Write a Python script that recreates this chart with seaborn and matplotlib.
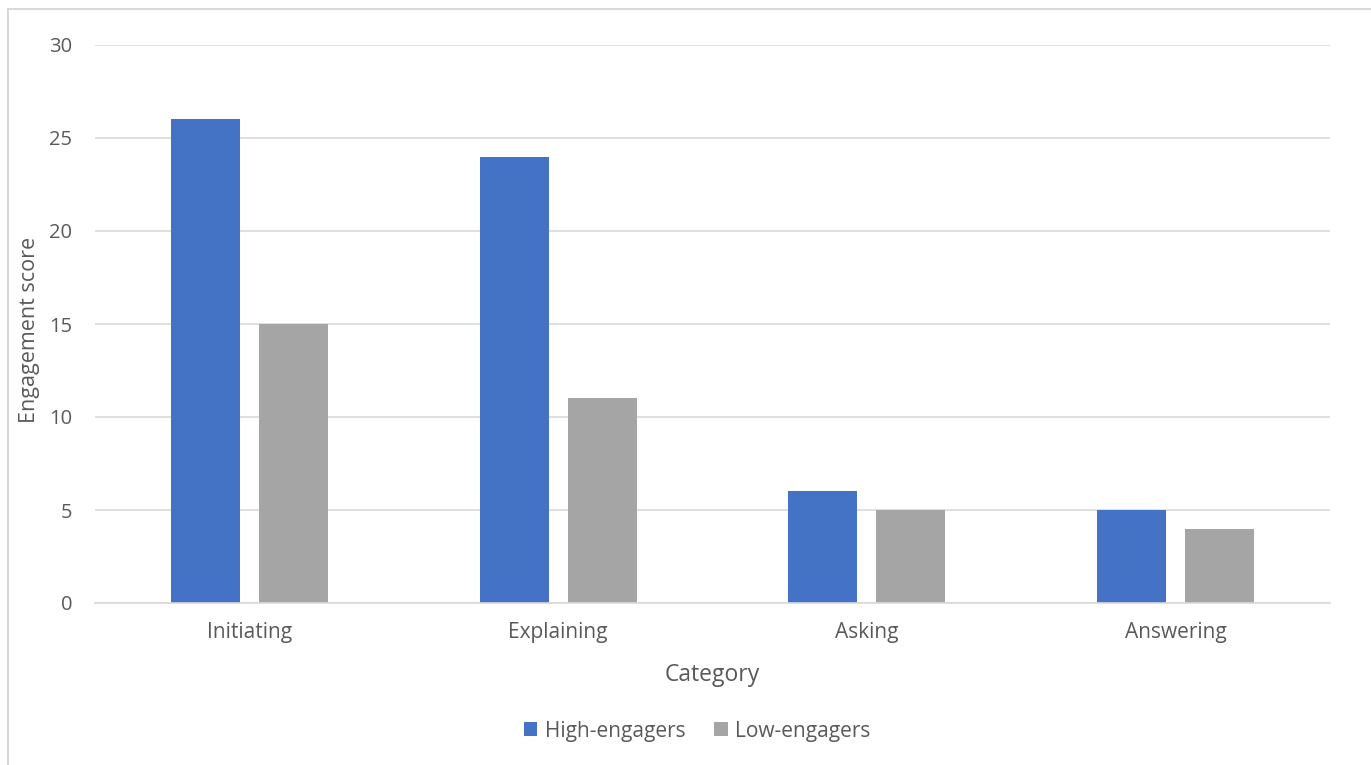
import matplotlib
matplotlib.use("Agg")
import matplotlib.pyplot as plt
import seaborn as sns
import pandas as pd
from matplotlib.patches import Rectangle

categories = ["Initiating", "Explaining", "Asking", "Answering"]
high_engagers = [26, 24, 6, 5]
low_engagers = [15, 11, 5, 4]
series_names = ["High-engagers", "Low-engagers"]
y_ticks = [0, 5, 10, 15, 20, 25, 30]

df = pd.DataFrame({
    "Category": categories * 2,
    "Score": high_engagers + low_engagers,
    "Group": [series_names[0]] * len(categories) + [series_names[1]] * len(categories),
})

sns.set_theme(style="white")
plt.rcParams['font.family'] = ['Open Sans', 'DejaVu Sans']
text_color = "#595959"

fig = plt.figure(figsize=(13.71, 7.65), dpi=100)
ax = fig.add_axes([95 / 1371, 1 - 603 / 765, (1330 - 95) / 1371, (603 - 45) / 765])

sns.barplot(data=df, x="Category", y="Score", hue="Group", order=categories,
            hue_order=series_names, palette=["#4472C4", "#A5A5A5"],
            width=0.57, gap=0.216, ax=ax, legend=True, saturation=1,
            linewidth=0, edgecolor="none")

ax.set_ylim(0, 30)
ax.set_yticks(y_ticks)
ax.set_xlim(-0.5, len(categories) - 0.5)
ax.yaxis.grid(True, color="#D9D9D9", linewidth=1.2)
ax.set_axisbelow(True)
for s in ["top", "right", "left"]:
    ax.spines[s].set_visible(False)
ax.spines["bottom"].set_color("#D9D9D9")
ax.spines["bottom"].set_linewidth(1.2)
ax.tick_params(axis="both", length=0, labelsize=14.5, colors=text_color)
ax.tick_params(axis="x", labelsize=15, pad=13.5)
ax.tick_params(axis="y", pad=16.5)
ax.set_xlabel("Category", fontsize=16.5, color=text_color)
ax.xaxis.label.set_va("center")
ax.xaxis.set_label_coords(0.5, -72 / 558)
ax.set_ylabel("Engagement score", fontsize=15.5, color=text_color)
ax.yaxis.label.set_va("center")
ax.yaxis.set_label_coords(-65 / 1235, 0.49)

leg = ax.legend(loc="center", bbox_to_anchor=(0.5085, (765 - 731) / 765),
                bbox_transform=fig.transFigure, ncol=2, frameon=False,
                fontsize=15, handlelength=0.65, handleheight=0.65,
                handletextpad=0.35, columnspacing=1.38)
for t in leg.get_texts():
    t.set_color(text_color)

fig.patches.append(Rectangle((8 / 1371, -0.05), 1.1, 1 - 9 / 765 + 0.05,
                             transform=fig.transFigure, fill=False,
                             edgecolor="#D9D9D9", linewidth=1.5))

fig.savefig("out.png", dpi=100, facecolor="white")
